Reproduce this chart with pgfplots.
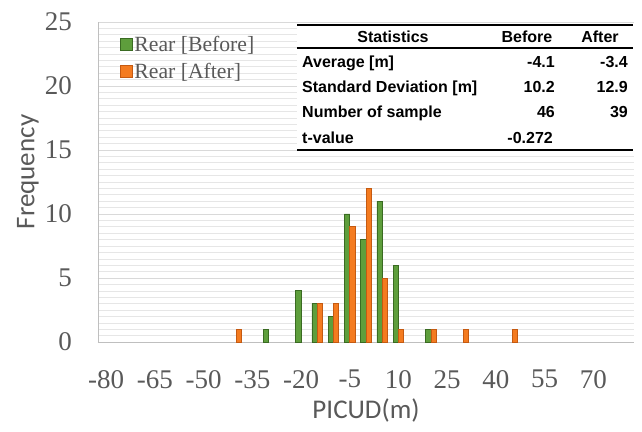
\documentclass[border=0pt]{standalone}
\usepackage{fontspec}
\setmainfont{Liberation Serif}
\newfontfamily\calibri{Carlito}
\newfontfamily\tabfont{Liberation Sans}
\usepackage{pgfplots}
\pgfplotsset{compat=1.18}
\definecolor{txtgray}{HTML}{595959}
\definecolor{gfill}{HTML}{5E9E3C}
\definecolor{gdraw}{HTML}{3A6B22}
\definecolor{ofill}{HTML}{F47B20}
\definecolor{odraw}{HTML}{C55A11}
\definecolor{majgrid}{HTML}{D9D9D9}
\definecolor{mingrid}{HTML}{E6E6E6}
\definecolor{axgray}{HTML}{BFBFBF}
\begin{document}
\begin{tikzpicture}
\begin{axis}[
  at={(0pt,0pt)}, anchor=south west,
  scale only axis, width=536pt, height=320pt,
  xmin=-82.5, xmax=82.5, ymin=0, ymax=25,
  ybar=0pt, bar width=1.63,
  xtick={-80,-65,...,70},
  xticklabels={-80,-65,-50,-35,-20,-5,10,25,40,55,70},
  ytick={0,5,...,25}, yticklabels={0,5,10,15,20,25},
  minor y tick num=9,
  ymajorgrids, yminorgrids,
  major grid style={majgrid, line width=0.9pt},
  minor grid style={mingrid, line width=0.6pt},
  axis x line*=bottom, axis y line*=left,
  axis line style={axgray, line width=0.9pt, -},
  major tick length=0pt, minor tick length=0pt,
  tick label style={font=\fontsize{27}{27}\selectfont, text=txtgray, inner sep=0pt},
  xticklabel style={anchor=north, yshift=-28pt},
  yticklabel style={anchor=east, xshift=-26pt},
  legend style={draw=none, fill=none, at={(0.040,0.962)}, anchor=north west,
    font=\fontsize{21.7}{24}\selectfont, text=txtgray, inner sep=0pt, row sep=6pt},
  legend cell align=left,
  legend image code/.code={\draw[#1, line width=0.8pt] (0pt,-6pt) rectangle (12pt,6pt);},
]
\addplot[fill=gfill, draw=gdraw, line width=0.8pt] coordinates {(-30,1) (-20,4) (-15,3) (-10,2) (-5,10) (0,8) (5,11) (10,6) (20,1)};
\addplot[fill=ofill, draw=odraw, line width=0.8pt] coordinates {(-40,1) (-15,3) (-10,3) (-5,9) (0,12) (5,5) (10,1) (20,1) (30,1) (45,1)};
\legend{Rear [Before], Rear [After]}
\end{axis}
% statistics table
\fill[white] (199pt,190pt) rectangle (535.5pt,318pt);
\draw[line width=2pt] (199pt,317pt) -- (535pt,317pt);
\draw[line width=1.5pt] (199pt,294pt) -- (535pt,294pt);
\draw[line width=2pt] (199pt,192pt) -- (535pt,192pt);
\begin{scope}[every node/.style={font=\tabfont\bfseries\fontsize{16}{16}\selectfont, inner sep=0pt}]
\node[anchor=base] at (295pt,299.3pt) {Statistics};
\node[anchor=base] at (429pt,299.3pt) {Before};
\node[anchor=base] at (502pt,299.3pt) {After};
\node[anchor=base west] at (204pt,274.3pt) {Average [m]};
\node[anchor=base west] at (204pt,249.3pt) {Standard Deviation [m]};
\node[anchor=base west] at (204pt,224.3pt) {Number of sample};
\node[anchor=base west] at (204pt,198.3pt) {t-value};
\node[anchor=base east] at (457pt,274.3pt) {-4.1};
\node[anchor=base east] at (457pt,249.3pt) {10.2};
\node[anchor=base east] at (457pt,224.3pt) {46};
\node[anchor=base east] at (455pt,198.3pt) {-0.272};
\node[anchor=base east] at (530pt,274.3pt) {-3.4};
\node[anchor=base east] at (530pt,249.3pt) {12.9};
\node[anchor=base east] at (530pt,224.3pt) {39};
\end{scope}
\node[rotate=90, font=\calibri\fontsize{27}{27}\selectfont, text=txtgray] at (-70pt,170pt) {Frequency};
\node[font=\calibri\fontsize{27}{27}\selectfont, text=txtgray] at (268pt,-68pt) {PICUD(m)};
\pgfresetboundingbox
\path[use as bounding box] (-98pt,-89pt) rectangle (544pt,342pt);
\end{tikzpicture}
\end{document}
